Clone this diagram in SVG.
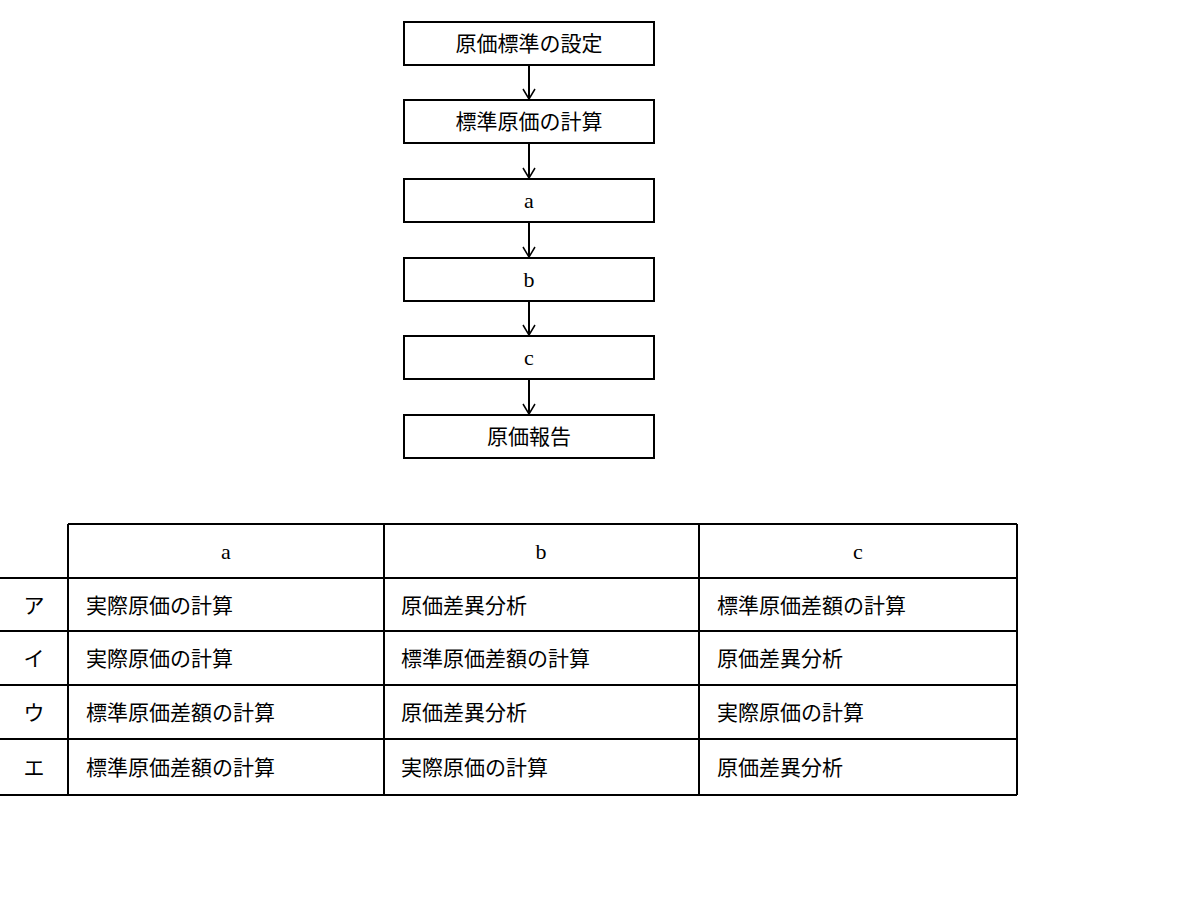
<svg xmlns="http://www.w3.org/2000/svg" width="1180" height="900" viewBox="0 0 1180 900">
<style>
.b{fill:#fff;stroke:#000;stroke-width:2}
.t{font-family:"Noto Sans CJK JP","Noto Sans",sans-serif;font-size:21px;fill:#000}
.s{font-family:"Liberation Serif",serif;font-size:22px;fill:#000}
.l{stroke:#000;stroke-width:2;fill:none}
</style>
<defs><marker id="a" markerWidth="14" markerHeight="14" refX="12" refY="7" orient="auto" markerUnits="userSpaceOnUse"><path d="M2,1 L12,7 L2,13" fill="none" stroke="#000" stroke-width="1.5"/></marker></defs>
<rect width="1180" height="900" fill="#fff"/>
<g id="connectors">
<line class="l" x1="529" y1="65" x2="529" y2="99" marker-end="url(#a)"/>
<line class="l" x1="529" y1="143" x2="529" y2="178" marker-end="url(#a)"/>
<line class="l" x1="529" y1="222" x2="529" y2="257" marker-end="url(#a)"/>
<line class="l" x1="529" y1="301" x2="529" y2="335" marker-end="url(#a)"/>
<line class="l" x1="529" y1="379" x2="529" y2="414" marker-end="url(#a)"/>
</g>
<g id="n1"><rect class="b" x="404" y="22" width="250" height="43"/><text class="t" x="529" y="51" text-anchor="middle">原価標準の設定</text></g>
<g id="n2"><rect class="b" x="404" y="100" width="250" height="43"/><text class="t" x="529" y="129" text-anchor="middle">標準原価の計算</text></g>
<g id="n3"><rect class="b" x="404" y="179" width="250" height="43"/><text class="s" x="529" y="208" text-anchor="middle">a</text></g>
<g id="n4"><rect class="b" x="404" y="258" width="250" height="43"/><text class="s" x="529" y="287" text-anchor="middle">b</text></g>
<g id="n5"><rect class="b" x="404" y="336" width="250" height="43"/><text class="s" x="529" y="365" text-anchor="middle">c</text></g>
<g id="n6"><rect class="b" x="404" y="415" width="250" height="43"/><text class="t" x="529" y="444" text-anchor="middle">原価報告</text></g>
<g id="table">
<path class="l" d="M68,524 H1017 M0,578 H1017 M0,631 H1017 M0,685 H1017 M0,739 H1017 M0,795 H1017 M68,524 V795 M384,524 V795 M699,524 V795 M1017,524 V795"/>
<text class="s" x="226" y="559" text-anchor="middle">a</text>
<text class="s" x="541" y="559" text-anchor="middle">b</text>
<text class="s" x="858" y="559" text-anchor="middle">c</text>
<g class="t">
<text x="34" y="613" text-anchor="middle">ア</text>
<text x="34" y="666" text-anchor="middle">イ</text>
<text x="34" y="720" text-anchor="middle">ウ</text>
<text x="34" y="775" text-anchor="middle">エ</text>
<text x="86" y="613">実際原価の計算</text><text x="401" y="613">原価差異分析</text><text x="717" y="613">標準原価差額の計算</text>
<text x="86" y="666">実際原価の計算</text><text x="401" y="666">標準原価差額の計算</text><text x="717" y="666">原価差異分析</text>
<text x="86" y="720">標準原価差額の計算</text><text x="401" y="720">原価差異分析</text><text x="717" y="720">実際原価の計算</text>
<text x="86" y="775">標準原価差額の計算</text><text x="401" y="775">実際原価の計算</text><text x="717" y="775">原価差異分析</text>
</g>
</g>
</svg>
